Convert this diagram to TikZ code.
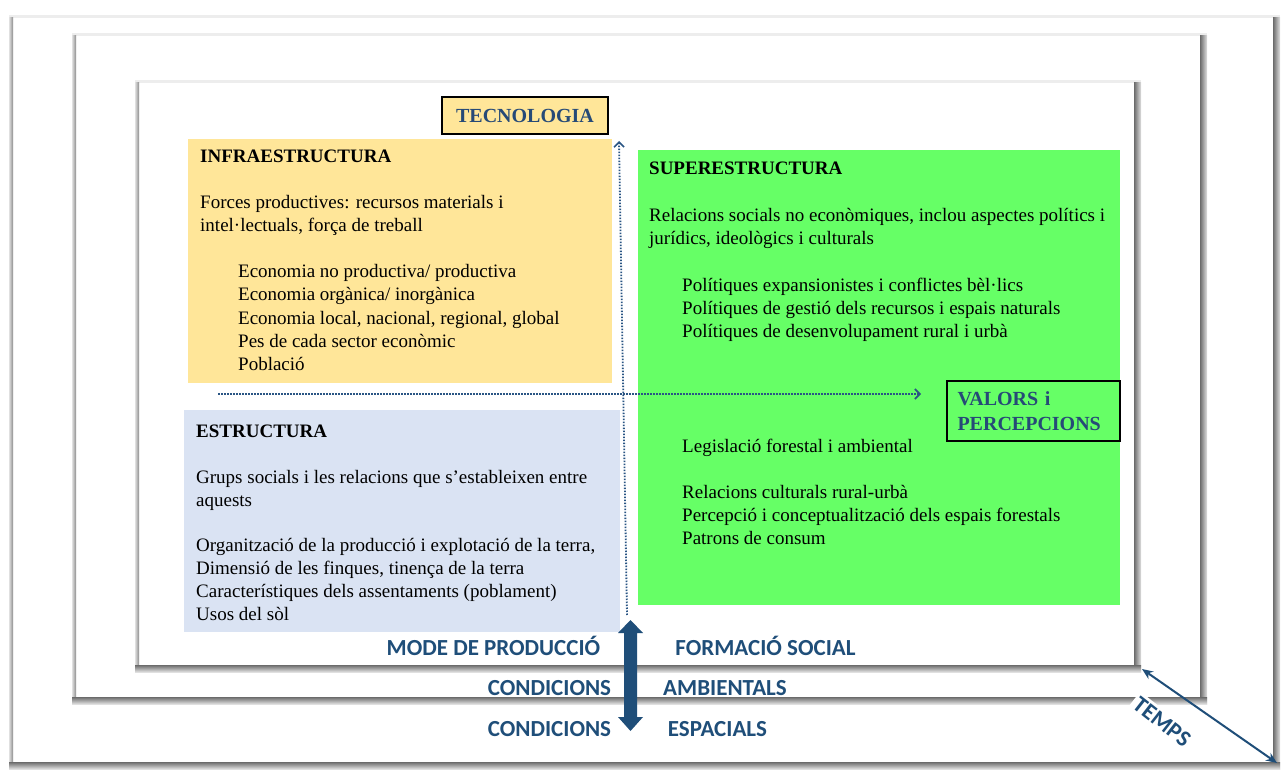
\documentclass[tikz,border=0pt]{standalone}
\usepackage{fontspec}
\setmainfont{Liberation Serif}
\newfontfamily\labfont{Carlito}
\usetikzlibrary{arrows.meta}
\definecolor{infracol}{HTML}{FFE699}
\definecolor{estrcol}{HTML}{DAE3F3}
\definecolor{supercol}{HTML}{66FF66}
\definecolor{dblue}{HTML}{1F4E79}
\definecolor{tblue}{HTML}{264A77}
\definecolor{dotblue}{HTML}{2A5584}
\newcommand\bvframe[4]{%
  \fill[white] (#1,#2) rectangle (#3,#4);
  \fill[black!7] (#1,#2) rectangle (#3,#2+3);
  \shade[left color=black!12, right color=black!45] (#1,#2+3) rectangle (#1+4,#4);
  \shade[left color=black!58, right color=black!12] (#3-7,#2+3) rectangle (#3,#4);
  \shade[top color=black!58, bottom color=black!12] (#1,#4-7) rectangle (#3,#4);
}
\tikzset{
  body/.style={anchor=base west, inner sep=0pt, font=\fontsize{19}{23}\selectfont, text=black},
  head/.style={body, font=\fontsize{19}{23}\selectfont\bfseries},
  lab/.style={inner sep=0pt, font=\labfont\fontsize{23}{27}\selectfont\bfseries, text=dblue},
  keybox/.style={draw=black, line width=1.3pt, font=\fontsize{20}{25}\selectfont\bfseries, text=tblue},
  areabox/.style={draw=none, inner sep=0pt},
  dotarrow/.style={dotblue, line width=1.8pt, dash pattern=on 1.5pt off 1.5pt, -{Straight Barb[length=5pt,width=10pt,line width=1.6pt]}},
}
\begin{document}
\begin{tikzpicture}[x=1pt,y=-1pt]
\useasboundingbox (0,0) rectangle (1283,770);
\fill[white] (0,0) rectangle (1283,770);
% frames
\bvframe{9}{15}{1280}{769}
\bvframe{72}{33}{1207}{704}
\bvframe{135}{80}{1141}{672}
% area boxes
\node[areabox, fill=infracol, minimum width=424, minimum height=244] (infra) at (400,261) {};
\node[areabox, fill=estrcol, minimum width=436, minimum height=222] (estr) at (402,521) {};
\node[areabox, fill=supercol, minimum width=482, minimum height=455] (super) at (879,377.5) {};
\node[keybox, fill=infracol, minimum width=166, minimum height=37, inner sep=0pt] (tecno) at (525,115.5) {TECNOLOGIA};
\node[keybox, fill=supercol, minimum width=173, minimum height=60, inner xsep=10pt, inner ysep=0pt, align=left, text width=152, anchor=center] (valors) at (1033.5,411) {VALORS i\\PERCEPCIONS};
% infraestructura text
\node[head] (i0) at (200,163) {INFRAESTRUCTURA};
\node[body] (i1) at (200,209) {Forces productives: recursos materials i};
\node[body] (i2) at (200,232) {intel·lectuals, força de treball};
\node[body] (i3) at (238,278) {Economia no productiva/ productiva};
\node[body] (i4) at (238,301) {Economia orgànica/ inorgànica};
\node[body] (i5) at (238,324) {Economia local, nacional, regional, global};
\node[body] (i6) at (238,347) {Pes de cada sector econòmic};
\node[body] (i7) at (238,370) {Població};
% estructura text
\node[head] (e0) at (196,437) {ESTRUCTURA};
\node[body] (e1) at (196,483) {Grups socials i les relacions que s’estableixen entre};
\node[body] (e2) at (196,506) {aquests};
\node[body] (e3) at (196,551) {Organització de la producció i explotació de la terra,};
\node[body] (e4) at (196,574) {Dimensió de les finques, tinença de la terra};
\node[body] (e5) at (196,597) {Característiques dels assentaments (poblament)};
\node[body] (e6) at (196,620) {Usos del sòl};
% superestructura text
\node[head] (s0) at (649,175) {SUPERESTRUCTURA};
\node[body] (s1) at (649,222) {Relacions socials no econòmiques, inclou aspectes polítics i};
\node[body] (s2) at (649,245) {jurídics, ideològics i culturals};
\node[body] (s3) at (682,291) {Polítiques expansionistes i conflictes bèl·lics};
\node[body] (s4) at (682,314) {Polítiques de gestió dels recursos i espais naturals};
\node[body] (s5) at (682,337) {Polítiques de desenvolupament rural i urbà};
\node[body] (s6) at (682,452) {Legislació forestal i ambiental};
\node[body] (s7) at (682,498) {Relacions culturals rural-urbà};
\node[body] (s8) at (682,521) {Percepció i conceptualització dels espais forestals};
\node[body] (s9) at (682,544) {Patrons de consum};
% dotted arrows
\coordinate (vstart) at (627,615);
\coordinate (vend) at (619,141);
\coordinate (hstart) at (218,394);
\coordinate (hend) at (921,394);
\draw[dotarrow] (vstart) -- (vend);
\draw[dotarrow] (hstart) -- (hend);
% big double arrow
\fill[dblue] (624,633) -- (618,633) -- (630.5,620) -- (643,633) -- (637,633) -- (637,717) -- (643,717) -- (630.5,731) -- (618,717) -- (624,717) -- cycle;
% labels
\node[lab] (mode) at (493.5,646) {MODE DE PRODUCCIÓ};
\node[lab] (form) at (765.5,646) {FORMACIÓ SOCIAL};
\node[lab] (cond1) at (549.5,688) {CONDICIONS};
\node[lab] (amb) at (725,688) {AMBIENTALS};
\node[lab] (cond2) at (549.5,729) {CONDICIONS};
\node[lab] (esp) at (717.5,729) {ESPACIALS};
% temps
\node[lab, fill=white, inner sep=3pt, rotate=-38, font=\labfont\fontsize{23}{27}\selectfont\bfseries] (temps) at (1162,722) {TEMPS};
\coordinate (t1) at (1142,669);
\coordinate (t2) at (1277,763);
\draw[dblue, line width=2pt, {Stealth[length=11pt,width=9pt]}-{Stealth[length=11pt,width=9pt]}] (t1) -- (t2);
\end{tikzpicture}
\end{document}
